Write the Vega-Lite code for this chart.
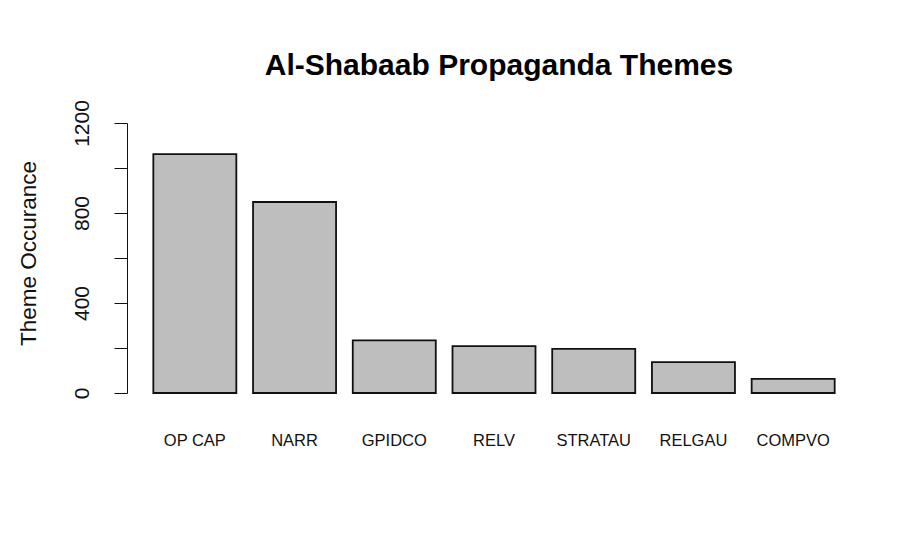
{
  "$schema": "https://vega.github.io/schema/vega-lite/v6.json",
  "width": 734,
  "height": 270,
  "autosize": {"type": "none"},
  "padding": {"left": 127, "top": 123, "right": 51, "bottom": 146},
  "background": "white",
  "title": {
    "text": "Al-Shabaab Propaganda Themes",
    "font": "Liberation Sans",
    "fontSize": 30,
    "fontWeight": "bold",
    "color": "black",
    "frame": "group",
    "anchor": "middle",
    "dx": 5,
    "offset": 19
  },
  "data": {
    "values": [
      {"theme": "OP CAP", "count": 1062},
      {"theme": "NARR", "count": 849},
      {"theme": "GPIDCO", "count": 234},
      {"theme": "RELV", "count": 208},
      {"theme": "STRATAU", "count": 196},
      {"theme": "RELGAU", "count": 137},
      {"theme": "COMPVO", "count": 63}
    ]
  },
  "mark": {"type": "bar", "fill": "#bebebe", "stroke": "#111111", "strokeWidth": 1.8},
  "encoding": {
    "x": {
      "field": "theme",
      "type": "nominal",
      "sort": null,
      "scale": {"paddingInner": 0.1675, "paddingOuter": 0.264},
      "axis": {
        "title": null,
        "domain": false,
        "ticks": false,
        "labelAngle": 0,
        "labelFont": "Liberation Sans",
        "labelFontSize": 16.5,
        "labelColor": "#111111",
        "labelPadding": 39
      }
    },
    "y": {
      "field": "count",
      "type": "quantitative",
      "scale": {"domain": [0, 1200], "nice": false},
      "axis": {
        "title": "Theme Occurance",
        "titleFont": "Liberation Sans",
        "titleFontSize": 22.5,
        "titleFontWeight": "normal",
        "titleColor": "#111111",
        "titlePadding": 31,
        "titleY": 130,
        "values": [0, 200, 400, 600, 800, 1000, 1200],
        "labelExpr": "datum.value % 400 == 0 ? datum.label : ''",
        "format": "d",
        "labelAngle": -90,
        "labelAlign": "center",
        "labelBaseline": "bottom",
        "labelFont": "Liberation Sans",
        "labelFontSize": 21,
        "labelColor": "#111111",
        "labelPadding": 22,
        "tickSize": 13,
        "tickColor": "#111111",
        "domainColor": "#111111",
        "grid": false
      }
    }
  },
  "config": {"view": {"stroke": null}}
}
